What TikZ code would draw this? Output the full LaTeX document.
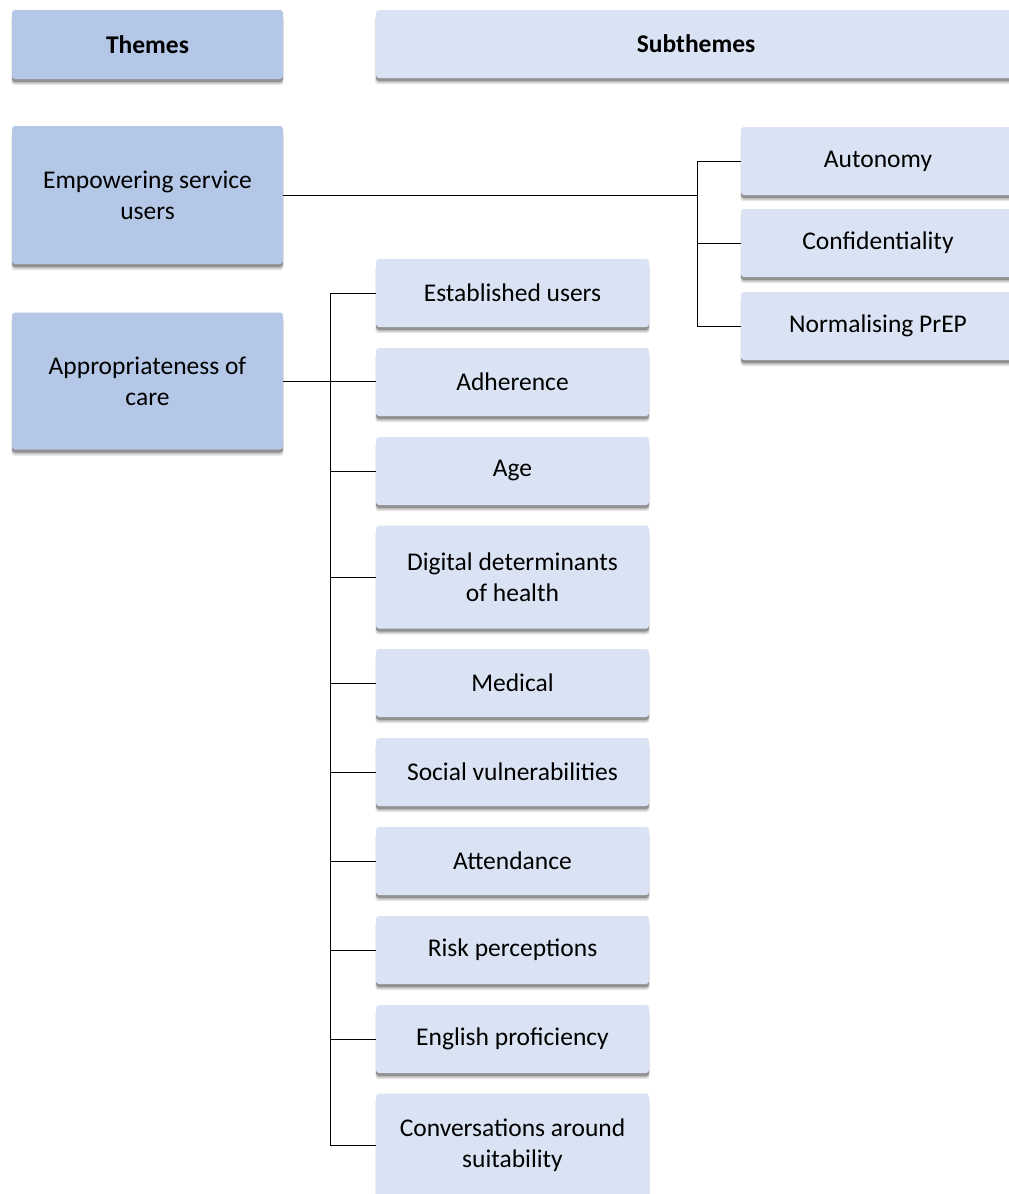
\documentclass[tikz,border=0pt]{standalone}
\usepackage{fontspec}
\setmainfont{Carlito}
\usetikzlibrary{shadows}
\definecolor{themefill}{HTML}{B4C7E7}
\definecolor{subfill}{HTML}{DAE3F3}
\tikzset{
  softshadow/.style={
    general shadow={shadow xshift=0pt, shadow yshift=-6pt, shadow scale=1.004, opacity=0.10, fill=black},
    general shadow={shadow xshift=0pt, shadow yshift=-4.5pt, opacity=0.15, fill=black},
    general shadow={shadow xshift=0pt, shadow yshift=-3pt, opacity=0.25, fill=black}},
  box/.style={rectangle, rounded corners=3pt, inner sep=0pt, align=center,
    font=\fontsize{25.5}{31}\selectfont, softshadow},
  themebox/.style={box, fill=themefill, minimum width=271pt},
  subbox/.style={box, fill=subfill},
  headfont/.style={font=\fontsize{25.5}{31}\selectfont\bfseries},
  link/.style={draw=black, line width=1pt}
}
\begin{document}
\begin{tikzpicture}[x=1pt,y=-1pt]
\clip (0,0) rectangle (1009,1194);
\fill[white] (0,0) rectangle (1009,1194);

% column headers
\node[themebox, headfont, minimum height=69pt] (hthemes) at (147.5,44.5) {Themes};
\node[subbox, headfont, minimum width=640pt, minimum height=68pt] (hsub) at (696,44) {Subthemes};

% themes
\node[themebox, minimum height=138pt] (emp) at (147.5,195) {Empowering service\\users};
\node[themebox, minimum height=137pt] (app) at (147.5,381) {Appropriateness of\\care};

% subthemes of "Empowering service users"
\node[subbox, minimum width=274pt, minimum height=68pt] (auto) at (878,161) {Autonomy};
\node[subbox, minimum width=274pt, minimum height=68pt] (conf) at (878,243) {Confidentiality};
\node[subbox, minimum width=274pt, minimum height=68pt] (norm) at (878,326) {Normalising PrEP};

% subthemes of "Appropriateness of care"
\tikzset{lsub/.style={subbox, minimum width=273pt, minimum height=68pt}}
\node[lsub] (est)  at (512.5,293)  {Established users};
\node[lsub] (adh)  at (512.5,382)  {Adherence};
\node[lsub] (age)  at (512.5,471)  {Age};
\node[lsub, minimum height=103pt] (dig) at (512.5,577) {Digital determinants\\of health};
\node[lsub] (med)  at (512.5,683)  {Medical};
\node[lsub] (soc)  at (512.5,772)  {Social vulnerabilities};
\node[lsub] (att)  at (512.5,861)  {Attendance};
\node[lsub] (risk) at (512.5,950)  {Risk perceptions};
\node[lsub] (eng)  at (512.5,1039) {English proficiency};
\node[lsub, minimum height=103pt] (conv) at (512.5,1145) {Conversations around\\suitability};

% connectors: right-hand tree
\coordinate (jr) at (697,195);
\draw[link] (emp.east) -- (jr);
\draw[link] (auto.west) -- (auto.west -| jr) -- (norm.west -| jr) -- (norm.west);
\draw[link] (conf.west) -- (conf.west -| jr);

% connectors: left-hand tree
\coordinate (jl) at (330,381);
\draw[link] (app.east) -- (app.east -| adh.west);
\draw[link] (est.west) -- (est.west -| jl) -- (conv.west -| jl) -- (conv.west);
\foreach \n in {age,dig,med,soc,att,risk,eng}
  \draw[link] (\n.west) -- (\n.west -| jl);
\end{tikzpicture}
\end{document}
